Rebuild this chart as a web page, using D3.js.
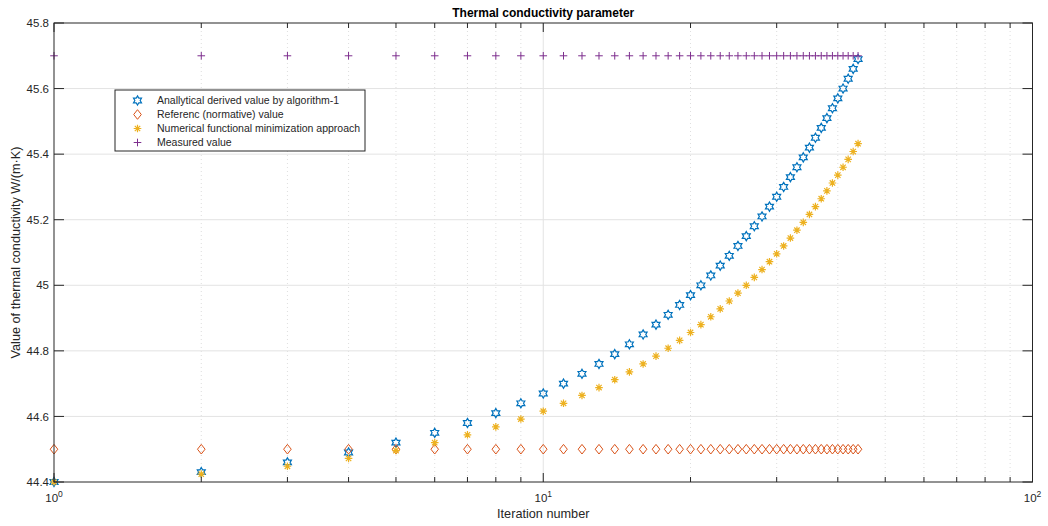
<!DOCTYPE html>
<html>
<head>
<meta charset="utf-8">
<title>Thermal conductivity parameter</title>
<style>
  body { margin: 0; background: #fff; font-family: 'Liberation Sans', Arial, sans-serif; }
  text { fill: #262626; }
</style>
<script src="https://d3js.org/d3.v7.min.js"></script>
</head>
<body>
<div id="chart"></div>
<script>
// ******* Data *******
const iterations = [1, 2, 3, 4, 5, 6, 7, 8, 9, 10, 11, 12, 13, 14, 15, 16, 17, 18, 19, 20, 21, 22,
                    23, 24, 25, 26, 27, 28, 29, 30, 31, 32, 33, 34, 35, 36, 37, 38, 39, 40, 41, 42, 43, 44];

const analytical = [44.40, 44.43, 44.46, 44.49, 44.52, 44.55, 44.58, 44.61, 44.64, 44.67, 44.70,
                    44.73, 44.76, 44.79, 44.82, 44.85, 44.88, 44.91, 44.94, 44.97, 45.00, 45.03,
                    45.06, 45.09, 45.12, 45.15, 45.18, 45.21, 45.24, 45.27, 45.30, 45.33, 45.36,
                    45.39, 45.42, 45.45, 45.48, 45.51, 45.54, 45.57, 45.60, 45.63, 45.66, 45.69];

const reference = [44.5, 44.5, 44.5, 44.5, 44.5, 44.5, 44.5, 44.5, 44.5, 44.5, 44.5,
                   44.5, 44.5, 44.5, 44.5, 44.5, 44.5, 44.5, 44.5, 44.5, 44.5, 44.5,
                   44.5, 44.5, 44.5, 44.5, 44.5, 44.5, 44.5, 44.5, 44.5, 44.5, 44.5,
                   44.5, 44.5, 44.5, 44.5, 44.5, 44.5, 44.5, 44.5, 44.5, 44.5, 44.5];

const numerical = [44.400, 44.424, 44.448, 44.472, 44.496, 44.520, 44.544, 44.568, 44.592, 44.616, 44.640,
                   44.664, 44.688, 44.712, 44.736, 44.760, 44.784, 44.808, 44.832, 44.856, 44.880, 44.904,
                   44.928, 44.952, 44.976, 45.000, 45.024, 45.048, 45.072, 45.096, 45.120, 45.144, 45.168,
                   45.192, 45.216, 45.240, 45.264, 45.288, 45.312, 45.336, 45.360, 45.384, 45.408, 45.432];

const measured = [45.7, 45.7, 45.7, 45.7, 45.7, 45.7, 45.7, 45.7, 45.7, 45.7, 45.7,
                  45.7, 45.7, 45.7, 45.7, 45.7, 45.7, 45.7, 45.7, 45.7, 45.7, 45.7,
                  45.7, 45.7, 45.7, 45.7, 45.7, 45.7, 45.7, 45.7, 45.7, 45.7, 45.7,
                  45.7, 45.7, 45.7, 45.7, 45.7, 45.7, 45.7, 45.7, 45.7, 45.7, 45.7];

const seriesNames = ["Anallytical derived value by algorithm-1",
                     "Referenc (normative) value",
                     "Numerical functional minimization approach",
                     "Measured value"];

const xMajorTicks = [1, 10, 100];
const xTickExponents = ["0", "1", "2"];
const xMinorTicks = [2, 3, 4, 5, 6, 7, 8, 9, 20, 30, 40, 50, 60, 70, 80, 90];
const yTicks = [44.4, 44.6, 44.8, 45.0, 45.2, 45.4, 45.6, 45.8];
const yTickLabels = ["44.4", "44.6", "44.8", "45", "45.2", "45.4", "45.6", "45.8"];

// ******* Layout *******
const width = 1048, height = 526;
const plotLeft = 54, plotRight = 1032.5, plotTop = 23, plotBottom = 482;
const ink = "#262626";

const x = d3.scaleLog().domain([1, 100]).range([plotLeft, plotRight]);
const y = d3.scaleLinear().domain([44.4, 45.8]).range([plotBottom, plotTop]);

const svg = d3.select("#chart").append("svg")
    .attr("width", width)
    .attr("height", height);

// ******* Grid *******
const grid = svg.append("g");
grid.selectAll(".xminor").data(xMinorTicks).enter().append("line")
    .attr("x1", d => x(d)).attr("x2", d => x(d))
    .attr("y1", plotTop).attr("y2", plotBottom)
    .attr("stroke", "#d6d6d6").attr("stroke-width", 0.8)
    .attr("stroke-dasharray", "1,3");
grid.selectAll(".xmajor").data([10]).enter().append("line")
    .attr("x1", d => x(d)).attr("x2", d => x(d))
    .attr("y1", plotTop).attr("y2", plotBottom)
    .attr("stroke", "#e3e3e3").attr("stroke-width", 1);
grid.selectAll(".ymajor").data(yTicks.slice(1, -1)).enter().append("line")
    .attr("x1", plotLeft).attr("x2", plotRight)
    .attr("y1", d => y(d)).attr("y2", d => y(d))
    .attr("stroke", "#e3e3e3").attr("stroke-width", 1);

// ******* Markers *******
function hexagramPath(r) {
  const ri = r / Math.sqrt(3);
  const pts = [];
  for (let k = 0; k < 12; k++) {
    const a = -Math.PI / 2 + k * Math.PI / 6;
    const rr = k % 2 === 0 ? r : ri;
    pts.push([rr * Math.cos(a), rr * Math.sin(a)]);
  }
  return "M" + pts.map(p => p[0].toFixed(2) + "," + p[1].toFixed(2)).join("L") + "Z";
}
const markers = {
  hexagram: hexagramPath(4.6),
  diamond: "M0,-4.8 L3.8,0 L0,4.8 L-3.8,0Z",
  asterisk: "M-3.8,0H3.8M0,-3.8V3.8M-2.7,-2.7L2.7,2.7M-2.7,2.7L2.7,-2.7",
  plus: "M-3.8,0H3.8M0,-3.8V3.8"
};

const series = [
  {name: seriesNames[0], values: analytical, color: "#0072BD", marker: "hexagram", sw: 1.2},
  {name: seriesNames[1], values: reference, color: "#D95319", marker: "diamond", sw: 1},
  {name: seriesNames[2], values: numerical, color: "#EDB120", marker: "asterisk", sw: 1.2},
  {name: seriesNames[3], values: measured, color: "#7E2F8E", marker: "plus", sw: 1}
];

series.forEach(s => {
  svg.append("g").selectAll("path")
    .data(iterations)
    .enter()
    .append("path")
    .attr("transform", (d, i) => "translate(" + x(d) + "," + y(s.values[i]) + ")")
    .attr("d", markers[s.marker])
    .attr("fill", "none")
    .attr("stroke", s.color)
    .attr("stroke-width", s.sw);
});

// ******* Axes box and ticks *******
const axes = svg.append("g").attr("stroke", ink).attr("stroke-width", 1);
axes.append("rect")
    .attr("x", plotLeft).attr("y", plotTop)
    .attr("width", plotRight - plotLeft).attr("height", plotBottom - plotTop)
    .attr("fill", "none");
// x major/minor ticks, bottom and top
xMajorTicks.concat(xMinorTicks).forEach(t => {
  const len = xMajorTicks.includes(t) ? 9 : 5;
  axes.append("line").attr("x1", x(t)).attr("x2", x(t)).attr("y1", plotBottom).attr("y2", plotBottom - len);
  axes.append("line").attr("x1", x(t)).attr("x2", x(t)).attr("y1", plotTop).attr("y2", plotTop + len);
});
// y ticks, left and right
yTicks.forEach(t => {
  axes.append("line").attr("x1", plotLeft).attr("x2", plotLeft + 10).attr("y1", y(t)).attr("y2", y(t));
  axes.append("line").attr("x1", plotRight).attr("x2", plotRight - 10).attr("y1", y(t)).attr("y2", y(t));
});

// y tick labels
svg.append("g").selectAll("text")
    .data(yTicks)
    .enter()
    .append("text")
    .attr("x", plotLeft - 5)
    .attr("y", d => y(d))
    .attr("dy", "0.36em")
    .attr("text-anchor", "end")
    .attr("font-size", 11.5)
    .text((d, i) => yTickLabels[i]);

// x tick labels with superscripts
const xl = svg.append("g").selectAll("text")
    .data(xMajorTicks)
    .enter()
    .append("text")
    .attr("x", d => x(d))
    .attr("y", 502)
    .attr("text-anchor", "middle")
    .attr("font-size", 11.5);
xl.append("tspan").text("10");
xl.append("tspan").attr("font-size", 8.5).attr("dy", -5).text((d, i) => xTickExponents[i]);

// ******* Title and labels *******
svg.append("text")
    .attr("x", (plotLeft + plotRight) / 2)
    .attr("y", 17)
    .attr("text-anchor", "middle")
    .attr("font-size", 12)
    .attr("font-weight", "bold")
    .style("fill", "#000")
    .text("Thermal conductivity parameter");

svg.append("text")
    .attr("x", (plotLeft + plotRight) / 2)
    .attr("y", 518)
    .attr("text-anchor", "middle")
    .attr("font-size", 12.7)
    .text("Iteration number");

svg.append("text")
    .attr("transform", "translate(20," + (plotTop + plotBottom) / 2 + ") rotate(-90)")
    .attr("text-anchor", "middle")
    .attr("font-size", 12.7)
    .text("Value of thermal conductivity W/(m\u00B7K)");

// ******* Legend *******
const legend = svg.append("g").attr("transform", "translate(115,90)");
legend.append("rect")
    .attr("width", 250).attr("height", 61)
    .attr("fill", "#fff").attr("stroke", ink).attr("stroke-width", 1);
const entries = legend.selectAll(".entry")
    .data(series)
    .enter()
    .append("g")
    .attr("transform", (d, i) => "translate(0," + (10.5 + i * 14) + ")");
entries.append("path")
    .attr("transform", "translate(22.5,0)")
    .attr("d", d => markers[d.marker])
    .attr("fill", "none")
    .attr("stroke", d => d.color)
    .attr("stroke-width", d => d.sw);
entries.append("text")
    .attr("x", 42)
    .attr("dy", "0.36em")
    .attr("font-size", 10.5)
    .text(d => d.name);
</script>
</body>
</html>
